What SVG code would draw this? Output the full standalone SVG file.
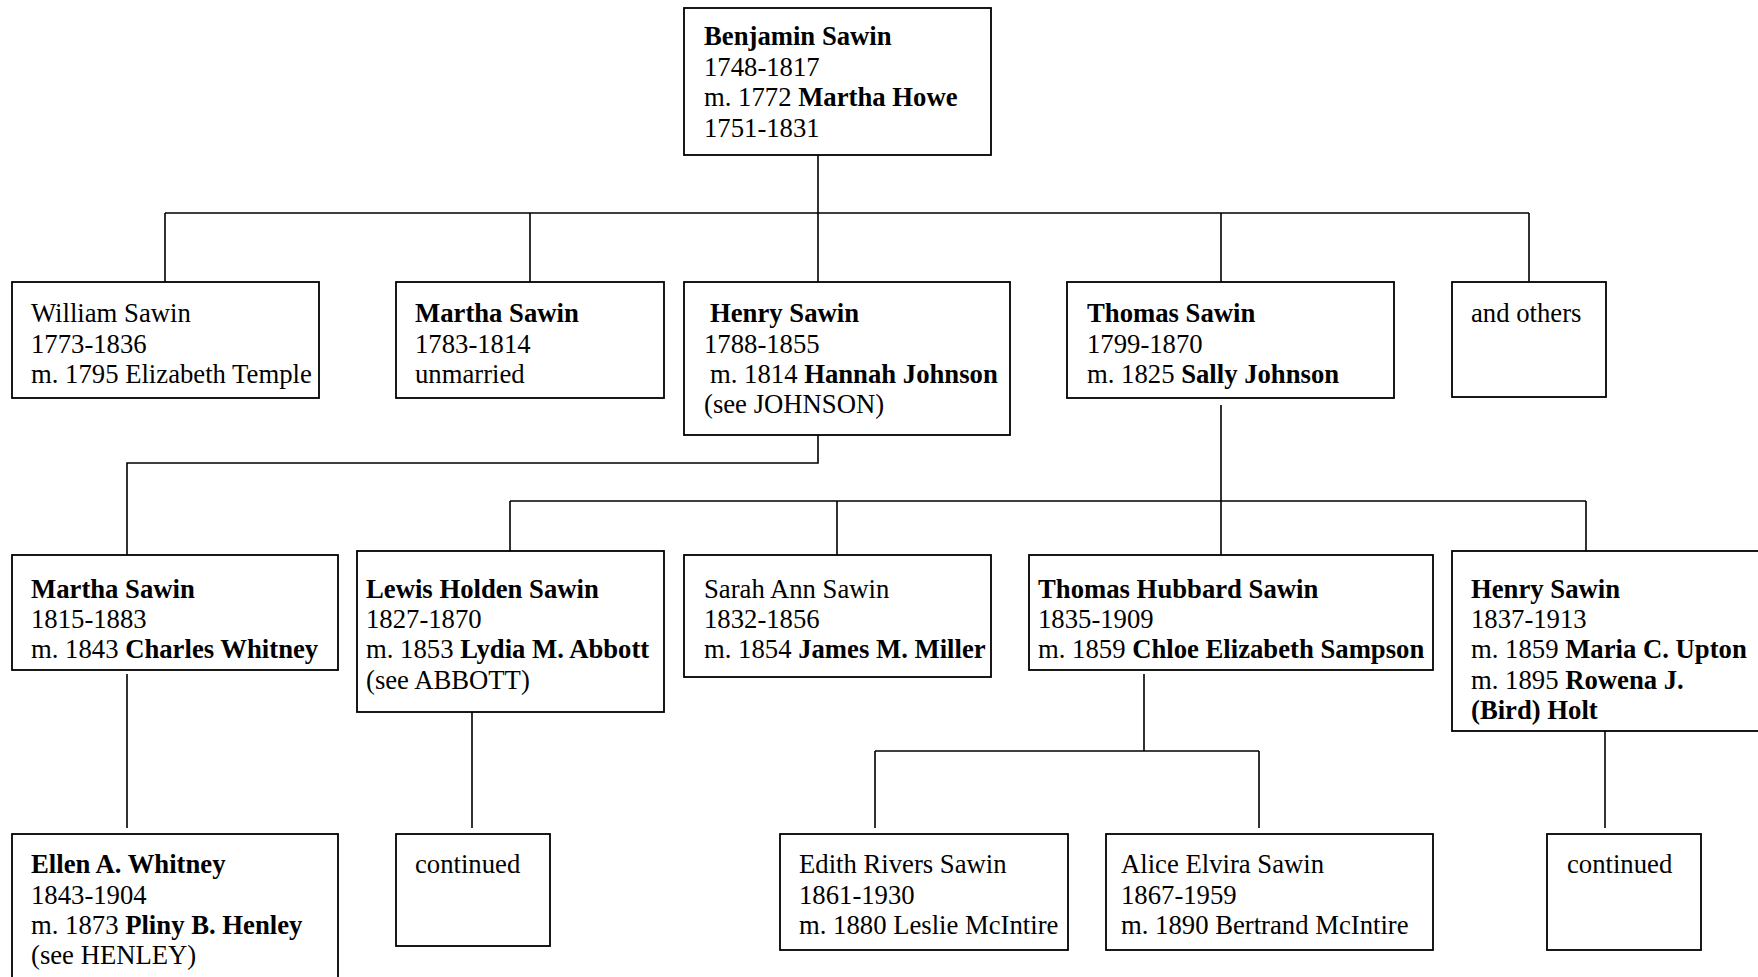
<svg xmlns="http://www.w3.org/2000/svg" width="1758" height="977" viewBox="0 0 1758 977">
<style>
rect.n{fill:#fff;stroke:#000;stroke-width:1.8}
text{font-family:"Liberation Serif","Times New Roman",serif;font-size:26.7px;fill:#000}
.b{font-weight:bold}
#connectors path{fill:none;stroke:#000;stroke-width:1.6}
</style>
<rect width="1758" height="977" fill="#fff"/>
<g id="connectors">
<path d="M818,155 V290 M165,213 H1529 M165,213 V290 M530,213 V290 M1221,213 V290 M1529,213 V290"/>
<path d="M818,435 V463 H127 V558"/>
<path d="M1221,405 V558 M510,501 H1586 M510,501 V558 M837,501 V558 M1586,501 V558"/>
<path d="M127,674 V828 M472,712 V828"/>
<path d="M1144,674 V751 M875,751 H1259 M875,751 V828 M1259,751 V828"/>
<path d="M1605,731 V828"/>
</g>
<g id="benjamin"><rect class="n" x="684" y="8" width="307" height="147"/>
<text x="704" y="45" class="b">Benjamin Sawin</text>
<text x="704" y="76">1748-1817</text>
<text x="704" y="106">m. 1772 <tspan class="b">Martha Howe</tspan></text>
<text x="704" y="137">1751-1831</text></g>
<g id="william"><rect class="n" x="12" y="282" width="307" height="116"/>
<text x="31" y="322">William Sawin</text>
<text x="31" y="353">1773-1836</text>
<text x="31" y="383">m. 1795 Elizabeth Temple</text></g>
<g id="martha1"><rect class="n" x="396" y="282" width="268" height="116"/>
<text x="415" y="322" class="b">Martha Sawin</text>
<text x="415" y="353">1783-1814</text>
<text x="415" y="383">unmarried</text></g>
<g id="henry1"><rect class="n" x="684" y="282" width="326" height="153"/>
<text x="710" y="322" class="b">Henry Sawin</text>
<text x="704" y="353">1788-1855</text>
<text x="710" y="383">m. 1814 <tspan class="b">Hannah Johnson</tspan></text>
<text x="704" y="413">(see JOHNSON)</text></g>
<g id="thomas1"><rect class="n" x="1067" y="282" width="327" height="116"/>
<text x="1087" y="322" class="b">Thomas Sawin</text>
<text x="1087" y="353">1799-1870</text>
<text x="1087" y="383">m. 1825 <tspan class="b">Sally Johnson</tspan></text></g>
<g id="others"><rect class="n" x="1452" y="282" width="154" height="115"/>
<text x="1471" y="322">and others</text></g>
<g id="martha2"><rect class="n" x="12" y="555" width="326" height="115"/>
<text x="31" y="598" class="b">Martha Sawin</text>
<text x="31" y="628">1815-1883</text>
<text x="31" y="658">m. 1843 <tspan class="b">Charles Whitney</tspan></text></g>
<g id="lewis"><rect class="n" x="357" y="551" width="307" height="161"/>
<text x="366" y="598" class="b">Lewis Holden Sawin</text>
<text x="366" y="628">1827-1870</text>
<text x="366" y="658">m. 1853 <tspan class="b">Lydia M. Abbott</tspan></text>
<text x="366" y="689">(see ABBOTT)</text></g>
<g id="sarah"><rect class="n" x="684" y="555" width="307" height="122"/>
<text x="704" y="598">Sarah Ann Sawin</text>
<text x="704" y="628">1832-1856</text>
<text x="704" y="658">m. 1854 <tspan class="b">James M. Miller</tspan></text></g>
<g id="thomas2"><rect class="n" x="1029" y="555" width="404" height="115"/>
<text x="1038" y="598" class="b">Thomas Hubbard Sawin</text>
<text x="1038" y="628">1835-1909</text>
<text x="1038" y="658">m. 1859 <tspan class="b">Chloe Elizabeth Sampson</tspan></text></g>
<g id="henry2"><rect class="n" x="1452" y="551" width="320" height="180"/>
<text x="1471" y="598" class="b">Henry Sawin</text>
<text x="1471" y="628">1837-1913</text>
<text x="1471" y="658">m. 1859 <tspan class="b">Maria C. Upton</tspan></text>
<text x="1471" y="689">m. 1895 <tspan class="b">Rowena J.</tspan></text>
<text x="1471" y="719" class="b">(Bird) Holt</text></g>
<g id="ellen"><rect class="n" x="12" y="834" width="326" height="160"/>
<text x="31" y="873" class="b">Ellen A. Whitney</text>
<text x="31" y="904">1843-1904</text>
<text x="31" y="934">m. 1873 <tspan class="b">Pliny B. Henley</tspan></text>
<text x="31" y="964">(see HENLEY)</text></g>
<g id="continued1"><rect class="n" x="396" y="834" width="154" height="112"/>
<text x="415" y="873">continued</text></g>
<g id="edith"><rect class="n" x="780" y="834" width="288" height="116"/>
<text x="799" y="873">Edith Rivers Sawin</text>
<text x="799" y="904">1861-1930</text>
<text x="799" y="934">m. 1880 Leslie McIntire</text></g>
<g id="alice"><rect class="n" x="1106" y="834" width="327" height="116"/>
<text x="1121" y="873">Alice Elvira Sawin</text>
<text x="1121" y="904">1867-1959</text>
<text x="1121" y="934">m. 1890 Bertrand McIntire</text></g>
<g id="continued2"><rect class="n" x="1547" y="834" width="154" height="116"/>
<text x="1567" y="873">continued</text></g>
</svg>
